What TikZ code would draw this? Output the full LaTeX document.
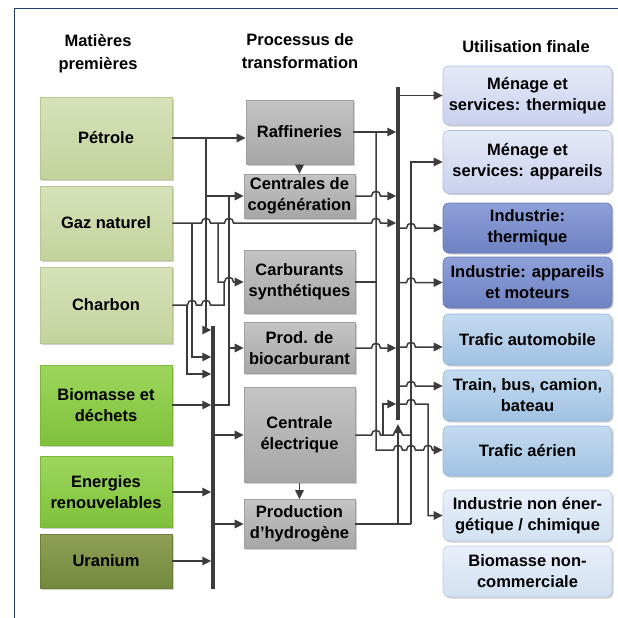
\documentclass[tikz,border=0pt]{standalone}
\usepackage{fontspec}
\setmainfont{Liberation Sans}
\usetikzlibrary{arrows.meta,shadows}
\definecolor{olA}{HTML}{D6E2BA}
\definecolor{olB}{HTML}{C3D39C}
\definecolor{olD}{HTML}{B8C78F}
\definecolor{grA}{HTML}{9DD65C}
\definecolor{grB}{HTML}{7EC13B}
\definecolor{grD}{HTML}{7AB83C}
\definecolor{urA}{HTML}{8FA056}
\definecolor{urB}{HTML}{72893E}
\definecolor{urD}{HTML}{6B7F3A}
\definecolor{gyA}{HTML}{C4C4C4}
\definecolor{gyB}{HTML}{A6A6A6}
\definecolor{gyD}{HTML}{A0A0A0}
\definecolor{meA}{HTML}{E5E9F7}
\definecolor{meB}{HTML}{CAD1EE}
\definecolor{meD}{HTML}{B6BFE2}
\definecolor{inA}{HTML}{8EA0D8}
\definecolor{inB}{HTML}{6E82C3}
\definecolor{inD}{HTML}{6679BA}
\definecolor{trA}{HTML}{C5DAEF}
\definecolor{trB}{HTML}{A0C2E3}
\definecolor{trD}{HTML}{95B6D8}
\definecolor{ltA}{HTML}{E8EFF9}
\definecolor{ltB}{HTML}{D2E1F2}
\definecolor{ltD}{HTML}{BCCDE4}
\definecolor{lc}{HTML}{3C3C3C}
\definecolor{navy}{HTML}{1F3D6B}
\newcommand{\hopover}[2]{-- (#1-4.5,#2) .. controls (#1-4.5,#2-6.2) and (#1+4.5,#2-6.2) .. (#1+4.5,#2)}
\tikzset{
  txt/.style={font=\bfseries\fontsize{16.5}{21}\selectfont, align=center, inner sep=0pt},
  hdr/.style={font=\bfseries\fontsize{16.5}{23}\selectfont, align=center, inner sep=0pt},
  boxbase/.style={txt, line width=0.6pt, drop shadow={shadow xshift=1.5pt, shadow yshift=-1.5pt, opacity=0.3, fill=black!60}},
  lolive/.style={boxbase, top color=olA, bottom color=olB, draw=olD, minimum width=132pt},
  lgreen/.style={boxbase, top color=grA, bottom color=grB, draw=grD, minimum width=132pt},
  luran/.style={boxbase, top color=urA, bottom color=urB, draw=urD, minimum width=132pt},
  mgray/.style={boxbase, top color=gyA, bottom color=gyB, draw=gyD, minimum width=111pt},
  rbox/.style={boxbase, rounded corners=6pt, minimum width=169pt},
  rmen/.style={rbox, top color=meA, bottom color=meB, draw=meD},
  rind/.style={rbox, top color=inA, bottom color=inB, draw=inD},
  rtra/.style={rbox, top color=trA, bottom color=trB, draw=trD},
  rlig/.style={rbox, top color=ltA, bottom color=ltB, draw=ltD},
  conn/.style={draw=lc, line width=1.5pt},
  arr/.style={conn, -{Triangle[length=9pt,width=8.5pt]}},
  busline/.style={draw=lc, line width=3.4pt}
}
\begin{document}
\begin{tikzpicture}[x=1pt,y=-1pt]
\useasboundingbox (0,0) rectangle (618,618);
\fill[white] (0,0) rectangle (618,618);
\draw[navy, line width=1pt] (14,618) -- (14,9) -- (618,9);

% headers
\node[hdr] (h1) at (98,54) {Matières\\premières};
\node[hdr] (h2) at (300,51) {Processus de\\transformation};
\node[hdr] (h3) at (526,47) {Utilisation finale};

% left column
\node[lolive, minimum height=82pt] (pet) at (106,138) {Pétrole};
\node[lolive, minimum height=74pt] (gaz) at (106,223) {Gaz naturel};
\node[lolive, minimum height=76pt] (cha) at (106,305) {Charbon};
\node[lgreen, minimum height=80pt] (bio) at (106,405) {Biomasse et\\déchets};
\node[lgreen, minimum height=71pt] (ene) at (106,492) {Energies\\renouvelables};
\node[luran, minimum height=54pt] (ura) at (106,561) {Uranium};

% middle column
\node[mgray, minimum width=107pt, minimum height=64pt] (raf) at (299.5,132) {Raffineries};
\node[mgray, minimum height=44pt] (cog) at (299.5,196) {Centrales de\\cogénération};
\node[mgray, minimum height=63pt] (car) at (299.5,282) {Carburants\\synthétiques};
\node[mgray, minimum height=51pt] (bcr) at (299.5,348) {Prod. de\\biocarburant};
\node[mgray, minimum height=95pt] (cel) at (299.5,435) {Centrale\\électrique};
\node[mgray, minimum height=49pt] (hyd) at (299.5,524) {Production\\d’hydrogène};

% right column
\node[rmen, minimum height=59pt] (m1) at (527.5,95.5) {Ménage et\\services: thermique};
\node[rmen, minimum height=63pt] (m2) at (527.5,162) {Ménage et\\services: appareils};
\node[rind, minimum height=50pt] (i1) at (527.5,228) {Industrie:\\thermique};
\node[rind, minimum height=51pt] (i2) at (527.5,282.5) {Industrie: appareils\\et moteurs};
\node[rtra, minimum height=51pt] (ta) at (527.5,339.5) {Trafic automobile};
\node[rtra, minimum height=51pt] (tb) at (527.5,395.5) {Train, bus, camion,\\bateau};
\node[rtra, minimum height=50pt] (tae) at (527.5,451) {Trafic aérien};
\node[rlig, minimum height=51pt] (ine) at (527.5,515.5) {Industrie non éner-\\gétique / chimique};
\node[rlig, minimum height=51pt] (bnc) at (527.5,571.5) {Biomasse non-\\commerciale};

% bus coordinates
\coordinate (lbT) at (213,326);
\coordinate (lbB) at (213,589);
\coordinate (rbT) at (398,87);
\coordinate (rbB) at (398,424);

% ---- left wiring
\draw[arr] (pet.east) -- (pet.east -| raf.west);
\draw[arr] (206,138) -- (206,330) -- (211.3,330);
\draw[arr] (206,196) -- (cog.west);
\draw[conn] (229,196) -- (229,405) -- (213,405);
\draw[arr] (229,348) -- (bcr.west);
\draw[arr] (gaz.east) \hopover{206}{223} \hopover{229}{223} \hopover{376}{223} -- (396.3,223);
\draw[arr] (192,223) -- (192,357) -- (211.3,357);
\draw[arr] (218,223) -- (218,282) \hopover{229}{282} -- (car.west);
\draw[conn] (cha.east) \hopover{192}{305} \hopover{206}{305} -- (224,305) -- (224,282);
\draw[arr] (187,305) -- (187,374) -- (211.3,374);
\draw[arr] (bio.east) -- (211.3,405);
\draw[arr] (ene.east) -- (211.3,492);
\draw[arr] (ura.east) -- (211.3,561);
\draw[busline] (lbT) -- (lbB);
\draw[arr] (214.5,435) -- (cel.west);
\draw[arr] (214.5,524) -- (hyd.west);
\draw[arr] (raf.south) -- (cog.north);
\draw[arr] (cel.south) -- (hyd.north);

% ---- right wiring
\draw[arr] (raf.east) -- (396.3,132);
\draw[arr] (376,132) -- (376,450) \hopover{398}{450} \hopover{411}{450} \hopover{428}{450} -- (tae.west |- 0,450);
\draw[arr] (cog.east) \hopover{376}{196} -- (396.3,196);
\draw[conn] (car.east) -- (376,282);
\draw[arr] (bcr.east) \hopover{376}{348} -- (396.3,348);
\draw[conn] (cel.east) \hopover{376}{435} \hopover{398}{435} -- (411,435);
\draw[arr] (383,435) -- (383,404) -- (396.3,404);
\draw[conn] (hyd.east) -- (411,524);
\draw[arr] (398,524) -- (rbB);
\draw[busline] (rbT) -- (398,420);
\draw[arr] (411,524) -- (411,162) -- (m2.west);
\draw[arr] (399.7,95.5) -- (m1.west);
\draw[arr] (399.7,228) \hopover{411}{228} -- (i1.west);
\draw[arr] (399.7,282.5) \hopover{411}{282.5} -- (i2.west);
\draw[arr] (399.7,347) \hopover{411}{347} -- (ta.west |- 0,347);
\draw[arr] (399.7,386) \hopover{411}{386} -- (tb.west |- 0,386);
\draw[arr] (399.7,404) \hopover{411}{404} -- (428,404) -- (428,515.5) -- (ine.west);
\end{tikzpicture}
\end{document}
